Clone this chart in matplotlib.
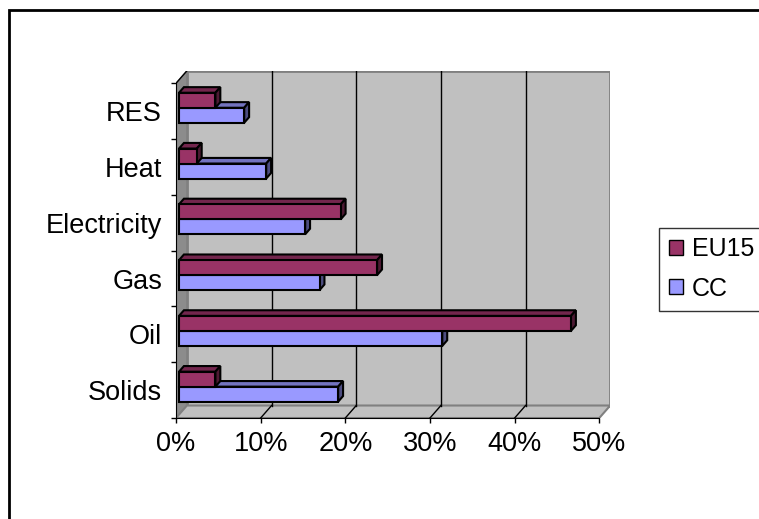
import numpy as np
import matplotlib
matplotlib.use("Agg")
import matplotlib.pyplot as plt
from matplotlib.patches import Polygon, Rectangle, Patch
from matplotlib.ticker import PercentFormatter, FixedLocator

plt.rcParams["font.family"] = ["Liberation Sans", "DejaVu Sans"]

# data (shares, %)
categories = ["Solids", "Oil", "Gas", "Electricity", "Heat", "RES"]
eu15 = [4.3, 46.3, 23.4, 19.1, 2.1, 4.3]
cc = [18.8, 31.1, 16.6, 14.9, 10.3, 7.7]
series_names = ["EU15", "CC"]
x_ticks = [0, 10, 20, 30, 40, 50]

# styling
EU_COLORS = ("#993366", "#73264d", "#4d1a33")   # front, top, side
CC_COLORS = ("#9999ff", "#7373bf", "#4d4d80")
WALL = "#c0c0c0"
WALL_EDGE = "#808080"
SIDE_WALL = "#8c8c8c"
FS = 19.5
LEG_FS = 18

XMAX = x_ticks[-1]
DX = 1.29      # depth offset in x (data units, %)
DY = 0.224     # depth offset in y (category units)
D0 = 0.275     # depth fraction of bar front face
BD = 0.45      # bar depth fraction
H = 0.269      # bar height

W, Hpx = 759, 519
fig = plt.figure(figsize=(W / 100, Hpx / 100), dpi=100)
px_x = 8.466
px_y = 55.78
left = 176 / W
bottom = (Hpx - 418) / Hpx
width = (XMAX + DX) * px_x / W
height = (6 + DY) * px_y / Hpx
ax = fig.add_axes([left, bottom, width, height])
ax.set_xlim(0, XMAX + DX)
ax.set_ylim(-0.5, len(categories) - 0.5 + DY)
ax.patch.set_visible(False)

ytop = len(categories) - 0.5

# walls
ax.add_patch(Polygon([(DX, -0.5 + DY), (XMAX + DX, -0.5 + DY), (XMAX + DX, ytop + DY), (DX, ytop + DY)],
                     closed=True, facecolor=WALL, edgecolor=WALL_EDGE, lw=2, zorder=1))
ax.add_patch(Polygon([(0, -0.5), (XMAX, -0.5), (XMAX + DX, -0.5 + DY), (DX, -0.5 + DY)],
                     closed=True, facecolor=WALL, edgecolor=WALL_EDGE, lw=1.5, zorder=1.2))
ax.add_patch(Polygon([(0, -0.5), (DX, -0.5 + DY), (DX, ytop + DY), (0, ytop)],
                     closed=True, facecolor=SIDE_WALL, edgecolor=WALL_EDGE, lw=1, zorder=1.1))

# gridlines on back wall and floor
for t in x_ticks[1:-1]:
    ax.plot([t + DX, t + DX], [-0.5 + DY, ytop + DY], color="black", lw=1, zorder=1.5)
    ax.plot([t, t + DX], [-0.5, -0.5 + DY], color="black", lw=1, zorder=1.5)
ax.plot([0, DX], [ytop, ytop + DY], color="black", lw=1, zorder=1.5)


def draw_bar(y0, value, colors, z):
    x0 = D0 * DX
    oy = D0 * DY
    y0 = y0 + oy
    y1 = y0 + H
    ddx, ddy = BD * DX, BD * DY
    x1 = x0 + value
    kw = dict(closed=True, edgecolor="black", lw=1.5, joinstyle="miter", zorder=z)
    ax.add_patch(Polygon([(x0, y1), (x1, y1), (x1 + ddx, y1 + ddy), (x0 + ddx, y1 + ddy)],
                         facecolor=colors[1], **kw))
    ax.add_patch(Polygon([(x1, y0), (x1 + ddx, y0 + ddy), (x1 + ddx, y1 + ddy), (x1, y1)],
                         facecolor=colors[2], **kw))
    ax.add_patch(Polygon([(x0, y0), (x1, y0), (x1, y1), (x0, y1)],
                         facecolor=colors[0], **kw))


for i in range(len(categories)):
    draw_bar(i - H, cc[i], CC_COLORS, 3 + i * 0.1)
    draw_bar(i, eu15[i], EU_COLORS, 3.05 + i * 0.1)

# axes: front plane spines and ticks
for s in ("top", "right"):
    ax.spines[s].set_visible(False)
ax.spines["bottom"].set_bounds(0, XMAX)
ax.spines["left"].set_bounds(-0.5, ytop)
ax.spines["bottom"].set_zorder(5)
ax.spines["left"].set_zorder(5)

ax.set_xticks(x_ticks)
ax.xaxis.set_major_formatter(PercentFormatter(decimals=0))
ax.tick_params(axis="x", length=3.6, width=1, direction="out", pad=6, labelsize=FS)

ax.set_yticks(range(len(categories)))
ax.set_yticklabels(categories)
ax.yaxis.set_minor_locator(FixedLocator(np.arange(-0.5, ytop + 0.01, 1)))
ax.tick_params(axis="y", which="major", length=0, pad=10, labelsize=FS)
ax.tick_params(axis="y", which="minor", length=3.6, width=1, direction="out")

# legend
handles = [Patch(facecolor=EU_COLORS[0], edgecolor="black", lw=1, label=series_names[0]),
           Patch(facecolor=CC_COLORS[0], edgecolor="black", lw=1, label=series_names[1])]
leg = fig.legend(handles=handles, loc="center left", bbox_to_anchor=(659 / W, (Hpx - 269) / Hpx),
                 fontsize=LEG_FS, frameon=True, fancybox=False, edgecolor="black",
                 handlelength=0.56, handleheight=0.56, handletextpad=0.36,
                 labelspacing=0.6, borderpad=0.4, borderaxespad=0)
leg.get_frame().set_linewidth(1)

# chart area frame (runs off the right and bottom edges)
fig.patches.append(Rectangle((9 / W, -0.1), 1.2, 1 - 10 / Hpx + 0.1, transform=fig.transFigure,
                             fill=False, edgecolor="black", lw=2, clip_on=False))

fig.savefig("out.png", dpi=100)
